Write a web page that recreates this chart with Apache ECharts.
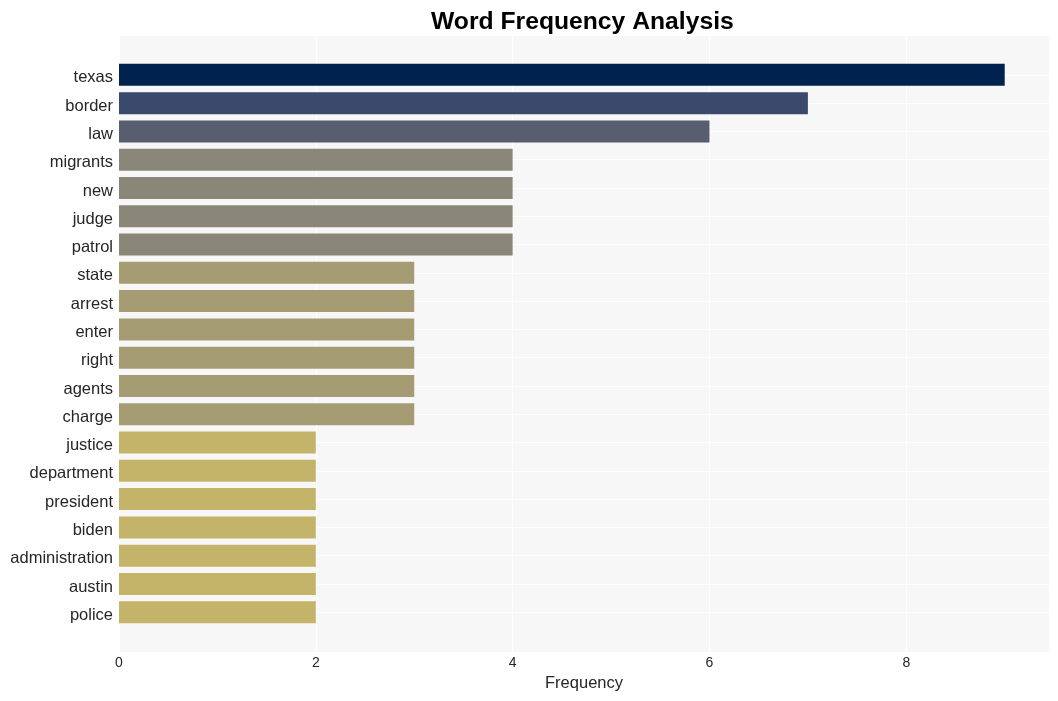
<!DOCTYPE html>
<html>
<head>
<meta charset="utf-8">
<script src="https://cdn.jsdelivr.net/npm/echarts@6/dist/echarts.min.js"></script>
<style>html,body{margin:0;padding:0;background:#fff;}#c{width:1058px;height:701px;}</style>
</head>
<body>
<div id="c"></div>
<script>
const categories = ['texas','border','law','migrants','new','judge','patrol','state','arrest','enter','right','agents','charge','justice','department','president','biden','administration','austin','police'];
const values = [9,7,6,4,4,4,4,3,3,3,3,3,3,2,2,2,2,2,2,2];
const xTicks = [0,2,4,6,8];
const palette = {9:'#00224e',7:'#3b496c',6:'#585d6f',4:'#8a8779',3:'#a69c74',2:'#c4b46a'};

const chart = echarts.init(document.getElementById('c'), null, {renderer:'canvas'});
const font = 'Liberation Sans, Arial, sans-serif';
const xMax = 9.45;
chart.setOption({
  animation: false,
  backgroundColor: '#ffffff',
  title: {
    text: 'Word Frequency Analysis',
    left: 426, top: 5,
    textStyle: {fontFamily: font, fontSize: 24.7, fontWeight: 'bold', color: '#000'}
  },
  grid: [
    {left: 119, right: 9, top: 36, bottom: 49, show: true, backgroundColor: '#f7f7f7', borderWidth: 0, z: 0},
    {left: 119, right: 9, top: 60.7, bottom: 74.6, containLabel: false},
    {left: 119, right: 9, top: 74.8, bottom: 88.7, containLabel: false}
  ],
  xAxis: [
    {gridIndex: 0, type: 'value', min: 0, max: xMax, interval: 2, z: 1,
     axisLine: {show: false}, axisTick: {show: false},
     splitLine: {show: true, lineStyle: {color: '#ffffff', width: 1}},
     axisLabel: {showMaxLabel: false, margin: 4, fontFamily: font, fontSize: 14, color: '#262626',
       formatter: v => xTicks.indexOf(v) >= 0 ? String(v) : ''},
     name: 'Frequency', nameLocation: 'middle', nameGap: 23,
     nameTextStyle: {fontFamily: font, fontSize: 16.5, color: '#262626'}},
    {gridIndex: 1, type: 'value', min: 0, max: xMax, show: false, splitLine: {show: false}},
    {gridIndex: 2, type: 'value', min: 0, max: xMax, show: false, splitLine: {show: false}}
  ],
  yAxis: [
    {gridIndex: 0, type: 'value', show: false, splitLine: {show: false}},
    {gridIndex: 1, type: 'category', data: categories, inverse: true, z: 3,
     axisLine: {show: false}, axisTick: {show: false}, splitLine: {show: false},
     axisLabel: {margin: 6, formatter: v => '{a|' + v + '}',
       rich: {a: {padding: [6, 0, 0, 0], fontFamily: font, fontSize: 16.5, color: '#262626'}}}},
    {gridIndex: 2, type: 'category', data: categories, inverse: true, boundaryGap: false, z: 1,
     axisLine: {show: false}, axisTick: {show: false}, axisLabel: {show: false},
     splitLine: {show: true, lineStyle: {color: '#ffffff', width: 1}}}
  ],
  series: [{
    type: 'bar', xAxisIndex: 1, yAxisIndex: 1, z: 2,
    barWidth: 22,
    data: values.map(v => ({value: v, itemStyle: {color: palette[v]}}))
  }]
});
</script>
</body>
</html>
